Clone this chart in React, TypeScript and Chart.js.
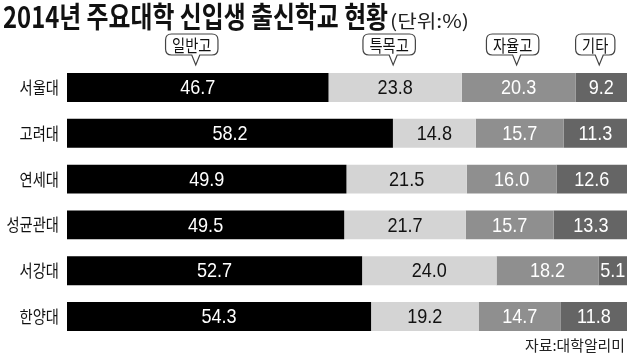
import React, { useEffect, useRef } from "react";
import { Chart, registerables } from "chart.js";

Chart.register(...registerables);

const titleText = "2014년 주요대학 신입생 출신학교 현황";
const unitText = "(단위:%)";
const sourceText = "자료:대학알리미";
const universities = ["서울대", "고려대", "연세대", "성균관대", "서강대", "한양대"];
const seriesNames = ["일반고", "특목고", "자율고", "기타"];
const general = [46.7, 58.2, 49.9, 49.5, 52.7, 54.3];
const special = [23.8, 14.8, 21.5, 21.7, 24.0, 19.2];
const autonomous = [20.3, 15.7, 16.0, 15.7, 18.2, 14.7];
const other = [9.2, 11.3, 12.6, 13.3, 5.1, 11.8];

const seriesColors = ["#000000", "#d4d4d4", "#8f8f8f", "#656565"];
const labelColors = ["#ffffff", "#111111", "#ffffff", "#ffffff"];

const KR = '"Noto Sans CJK KR", "Noto Sans", sans-serif';
const NUM = '"Liberation Sans", Arial, sans-serif';

function drawText(
  ctx: CanvasRenderingContext2D,
  text: string,
  x: number,
  y: number,
  font: string,
  color: string,
  align: CanvasTextAlign,
  sx: number,
  baseline: CanvasTextBaseline = "middle"
) {
  ctx.save();
  ctx.font = font;
  ctx.fillStyle = color;
  ctx.textAlign = align;
  ctx.textBaseline = baseline;
  ctx.translate(x, y);
  ctx.scale(sx, 1);
  ctx.fillText(text, 0, 0);
  ctx.restore();
}

function fitScale(ctx: CanvasRenderingContext2D, text: string, font: string, target: number) {
  ctx.save();
  ctx.font = font;
  const w = ctx.measureText(text).width;
  ctx.restore();
  return target / w;
}

const decorPlugin = {
  id: "decor",
  afterDatasetsDraw(chart: any) {
    const ctx: CanvasRenderingContext2D = chart.ctx;
    const area = chart.chartArea;

    // value labels
    chart.data.datasets.forEach((ds: any, i: number) => {
      const meta = chart.getDatasetMeta(i);
      meta.data.forEach((el: any, j: number) => {
        const cx = (el.x + el.base) / 2;
        drawText(ctx, Number(ds.data[j]).toFixed(1), cx, el.y + 1, `21px ${NUM}`, labelColors[i], "center", 0.86);
      });
    });

    // category labels
    const yScale = chart.scales.y;
    universities.forEach((u, j) => {
      const y = yScale.getPixelForValue(j);
      drawText(ctx, u, area.left - 8, y, `400 17px ${KR}`, "#111", "right", 0.84);
    });

    // legend bubbles
    chart.data.datasets.forEach((ds: any, i: number) => {
      const el = chart.getDatasetMeta(i).data[0];
      const tip = (el.x + el.base) / 2 - 2;
      const cx = tip - 4;
      ctx.save();
      ctx.font = `400 17px ${KR}`;
      const tw = ctx.measureText(seriesNames[i]).width * 0.84;
      const w = tw + 13;
      const h = 21;
      const top = 34;
      const bottom = top + h;
      const left = cx - w / 2;
      const right = cx + w / 2;
      const r = 6;
      ctx.beginPath();
      ctx.moveTo(left + r, top);
      ctx.lineTo(right - r, top);
      ctx.quadraticCurveTo(right, top, right, top + r);
      ctx.lineTo(right, bottom - r);
      ctx.quadraticCurveTo(right, bottom, right - r, bottom);
      ctx.lineTo(tip + 4, bottom);
      ctx.lineTo(tip, bottom + 10);
      ctx.lineTo(tip - 4, bottom);
      ctx.lineTo(left + r, bottom);
      ctx.quadraticCurveTo(left, bottom, left, bottom - r);
      ctx.lineTo(left, top + r);
      ctx.quadraticCurveTo(left, top, left + r, top);
      ctx.closePath();
      ctx.fillStyle = "#ffffff";
      ctx.fill();
      ctx.strokeStyle = "#444";
      ctx.lineWidth = 1.2;
      ctx.stroke();
      ctx.restore();
      drawText(ctx, seriesNames[i], cx, top + h / 2 + 1, `400 17px ${KR}`, "#111", "center", 0.84);
    });

    // title
    const titleFont = `700 29px ${KR}`;
    drawText(ctx, titleText, 3, 28, titleFont, "#111", "left", fitScale(ctx, titleText, titleFont, 385), "alphabetic");
    const unitFont = `400 18px ${KR}`;
    drawText(ctx, unitText, 390, 28, unitFont, "#222", "left", fitScale(ctx, unitText, unitFont, 79), "alphabetic");

    // source
    const srcFont = `400 15px ${KR}`;
    drawText(ctx, sourceText, 625, 345, srcFont, "#222", "right", fitScale(ctx, sourceText, srcFont, 100));
  },
};

export default function App() {
  const ref = useRef<HTMLCanvasElement | null>(null);
  useEffect(() => {
    if (!ref.current) return;
    const allSeries = [general, special, autonomous, other];
    const chart = new Chart(ref.current, {
      type: "bar",
      data: {
        labels: universities,
        datasets: allSeries.map((d, i) => ({
          label: seriesNames[i],
          data: d,
          backgroundColor: seriesColors[i],
          borderWidth: 0,
          barPercentage: 1,
          categoryPercentage: 0.63,
        })),
      },
      options: {
        indexAxis: "y",
        responsive: false,
        animation: false,
        layout: { padding: { left: 67, right: 3, top: 64.6, bottom: 14.6 } },
        scales: {
          x: { stacked: true, min: 0, max: 100, display: false },
          y: { stacked: true, display: false },
        },
        plugins: {
          legend: { display: false },
          tooltip: { enabled: false },
          title: { display: false },
        },
      },
      plugins: [decorPlugin],
    } as any);
    return () => chart.destroy();
  }, []);
  return (
    <div style={{ position: "fixed", left: 0, top: 0, width: 630, height: 354, background: "#fff" }}>
      <canvas ref={ref} width={630} height={354} style={{ display: "block" }} />
    </div>
  );
}
